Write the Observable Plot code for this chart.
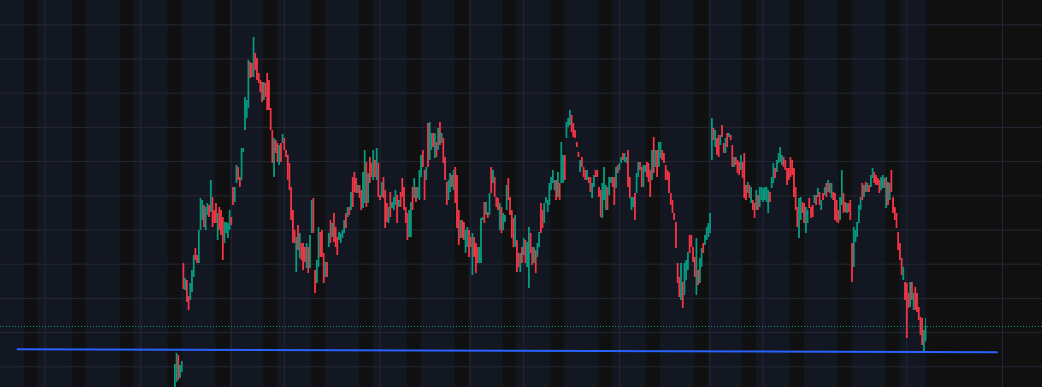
<!DOCTYPE html>
<html>
<head>
<meta charset="utf-8">
<script src="https://cdn.jsdelivr.net/npm/d3@7"></script>
<script src="https://cdn.jsdelivr.net/npm/@observablehq/plot@0.6"></script>
<style>
  html, body { margin: 0; padding: 0; background: #101010; overflow: hidden; }
  #chart svg { display: block; }
</style>
</head>
<body>
<div id="chart"></div>
<script>
// Time: days since the first Saturday in view; one candle every 6 hours.
const firstDay = 22;
const candleStep = 0.25;

const open = [
  8,18,45,22,28,137,110,120,104,100,
  108,123,152,145,137,170,180,195,170,185,
  195,188,203,190,197,160,193,190,183,157,
  167,162,170,183,213,198,217,233,223,220,
  248,270,282,292,338,337,323,347,342,327,
  320,318,300,317,327,320,292,270,223,260,
  257,235,257,257,262,250,245,237,213,190,
  170,128,175,142,157,157,153,132,153,132,
  167,202,130,117,133,168,170,147,123,138,
  153,180,163,187,173,163,160,157,162,167,
  187,183,193,190,223,228,222,207,215,210,
  192,197,238,197,243,237,220,240,220,237,
  205,203,223,210,197,177,208,192,190,195,
  205,193,208,222,213,193,187,163,163,213,
  202,213,202,200,223,250,230,220,277,240,
  250,267,242,258,250,278,257,262,243,218,
  200,208,225,210,233,225,190,162,180,178,
  147,153,170,163,125,163,157,153,137,137,
  180,198,185,188,185,233,217,223,203,202,
  170,193,170,178,190,222,203,190,182,153,
  160,147,128,153,145,160,133,112,167,153,
  137,150,143,153,197,190,177,197,188,195,
  210,217,210,220,203,217,217,217,245,262,
  273,275,285,277,270,258,248,228,243,233,
  230,220,223,223,202,213,230,230,213,210,
  182,200,190,213,205,217,223,223,212,235,
  230,237,247,238,237,250,223,190,193,207,
  207,223,238,233,213,228,238,237,230,220,
  263,233,250,233,242,250,247,235,230,228,
  207,200,187,178,137,123,100,118,105,120,
  130,165,165,153,143,105,130,117,133,157,
  155,160,163,167,240,272,253,262,265,255,
  275,257,247,267,263,265,255,233,243,240,
  238,230,238,247,215,207,215,197,200,197,
  190,205,193,200,198,200,198,187,208,212,
  217,232,228,237,238,235,243,240,232,232,
  243,240,232,213,193,162,180,198,197,167,
  177,202,193,195,197,205,203,208,190,207,
  205,217,208,217,202,208,207,200,190,180,
  195,207,198,187,197,200,157,133,158,163,
  177,190,217,203,218,208,215,213,222,228,
  225,222,220,210,212,222,192,218,200,230,
  203,193,187,168,157,142,120,118,117,107,
  93,118,90,113,107,93,83,82,49,60
];

const high = [
  36,47,45,35,39,137,122,120,104,117,
  130,145,152,145,170,202,200,195,193,197,
  195,220,203,190,197,187,193,190,183,178,
  178,177,190,183,213,213,235,233,223,252,
  252,303,300,340,338,337,363,347,342,327,
  320,318,318,317,327,320,292,270,262,260,
  257,255,257,266,262,250,245,237,213,190,
  170,163,175,167,157,157,153,157,153,165,
  200,202,130,140,173,168,170,147,138,138,
  167,180,177,187,173,163,168,167,170,180,
  187,193,193,208,223,228,222,215,215,210,
  228,250,238,227,243,237,250,240,252,237,
  205,218,223,210,197,193,208,198,203,210,
  205,200,208,222,213,193,187,190,198,213,
  222,213,213,230,245,250,230,233,277,278,
  267,267,267,258,272,278,267,262,243,218,
  220,227,225,230,233,225,190,180,180,178,
  170,173,170,163,167,163,157,153,153,182,
  183,198,198,188,207,233,230,223,203,202,
  197,193,187,185,215,222,203,190,182,185,
  160,147,147,153,162,160,158,173,167,153,
  153,150,157,168,197,190,197,203,200,217,
  223,230,220,220,228,217,258,245,245,278,
  282,290,285,277,270,258,248,240,243,233,
  230,230,223,223,217,225,230,230,213,210,
  217,233,215,213,223,223,223,223,233,235,
  237,243,247,247,243,250,223,203,203,207,
  227,238,238,233,235,235,238,237,230,250,
  263,250,250,258,258,250,247,235,230,228,
  207,200,187,178,137,123,137,118,137,140,
  148,165,165,153,143,162,130,142,152,157,
  165,173,177,187,282,272,270,262,265,265,
  275,257,262,267,267,265,255,243,243,240,
  238,245,238,247,215,218,215,213,200,197,
  210,205,213,213,212,213,213,210,208,223,
  237,232,240,247,253,245,243,240,232,232,
  243,240,232,213,193,202,203,198,197,193,
  190,202,193,195,205,205,212,208,200,207,
  213,217,220,217,217,208,207,200,190,203,
  230,207,198,197,197,200,157,173,170,178,
  195,203,217,215,218,217,215,225,232,228,
  225,222,220,223,225,222,223,218,217,230,
  203,193,187,168,157,142,133,118,117,107,
  118,118,107,113,107,93,83,82,70,82
];

const low = [
  8,18,20,22,28,111,110,98,90,100,
  108,123,140,137,137,170,180,173,170,185,
  183,188,173,177,177,160,170,165,140,157,
  167,162,170,175,195,198,217,220,213,220,
  248,270,282,292,322,323,323,330,320,317,
  308,298,300,303,290,290,270,237,223,247,
  238,235,238,257,250,243,220,210,180,157,
  157,128,150,142,140,130,138,132,127,132,
  167,167,107,117,133,143,143,117,123,123,
  153,157,163,158,153,145,160,157,162,167,
  172,183,185,190,193,208,207,207,202,190,
  192,197,193,197,217,223,220,223,220,203,
  200,203,202,172,178,177,183,192,190,195,
  177,193,193,203,190,177,160,163,163,190,
  202,198,202,200,223,233,200,220,233,240,
  250,253,242,243,250,255,257,237,220,195,
  200,208,213,210,197,172,155,162,162,160,
  147,153,143,153,125,143,127,137,137,137,
  180,177,185,182,185,207,217,203,193,190,
  170,167,170,178,190,200,185,162,153,153,
  128,133,128,137,145,137,133,112,147,135,
  137,127,143,153,167,172,177,197,188,195,
  210,217,210,200,203,200,217,217,220,262,
  273,275,268,263,262,253,243,228,233,223,
  220,220,217,208,202,213,223,223,203,183,
  182,200,190,190,205,217,213,195,212,227,
  230,237,240,238,237,213,202,190,193,180,
  207,223,230,213,213,228,223,218,203,220,
  227,233,223,233,242,240,237,220,220,207,
  195,187,180,152,117,103,100,92,105,120,
  130,147,153,138,123,105,115,117,133,147,
  155,160,163,167,240,260,253,245,243,255,
  263,247,247,253,263,260,233,233,235,227,
  225,230,222,202,200,207,202,197,190,182,
  190,190,193,200,198,200,198,187,198,212,
  217,222,228,237,238,235,233,230,215,220,
  223,225,203,190,173,162,180,187,177,167,
  177,192,182,183,197,195,203,195,190,200,
  205,203,208,207,202,200,180,178,177,180,
  195,187,188,187,188,180,118,133,158,163,
  177,190,200,203,208,208,208,213,222,217,
  215,215,207,210,212,212,192,195,200,208,
  187,180,172,150,140,125,120,100,62,92,
  93,100,90,90,88,80,65,55,49,58
];

const close = [
  36,47,20,35,39,111,122,98,90,117,
  130,145,140,137,170,202,200,173,193,197,
  183,220,173,177,177,187,170,165,140,178,
  178,177,190,175,195,213,235,220,213,252,
  252,303,300,340,322,323,363,330,320,317,
  308,298,318,303,290,290,270,237,262,247,
  238,255,238,266,250,243,220,210,180,157,
  157,163,150,167,140,130,138,157,127,165,
  200,167,107,140,173,143,143,117,138,123,
  167,157,177,158,153,145,168,167,170,180,
  172,193,185,208,193,208,207,215,202,190,
  228,250,193,227,217,223,250,223,252,203,
  200,218,202,172,178,193,183,198,203,210,
  177,200,193,203,190,177,160,190,198,190,
  222,198,213,230,245,233,200,233,233,278,
  267,253,267,243,272,255,267,237,220,195,
  220,227,213,230,197,172,155,180,162,160,
  170,173,143,153,167,143,127,137,153,182,
  183,177,198,182,207,207,230,203,193,190,
  197,167,187,185,215,200,185,162,153,185,
  128,133,147,137,162,137,158,173,147,135,
  153,127,157,168,167,172,197,203,200,217,
  223,230,220,200,228,200,258,245,220,278,
  282,290,268,263,262,253,243,240,233,223,
  220,230,217,208,217,225,223,223,203,183,
  217,233,215,190,223,223,213,195,233,227,
  237,243,240,247,243,213,202,203,203,180,
  227,238,230,213,235,235,223,218,203,250,
  227,250,223,258,258,240,237,220,220,207,
  195,187,180,152,117,103,137,92,137,140,
  148,147,153,138,123,162,115,142,152,147,
  165,173,177,187,282,260,270,245,243,265,
  263,247,262,253,267,260,233,243,235,227,
  225,245,222,202,200,218,202,213,190,182,
  210,190,213,213,212,213,213,210,198,223,
  237,222,240,247,253,245,233,230,215,220,
  223,225,203,190,173,202,203,187,177,193,
  190,192,182,183,205,195,212,195,200,200,
  213,203,220,207,217,200,180,178,177,203,
  230,187,188,197,188,180,118,173,170,178,
  195,203,200,215,208,217,208,225,232,217,
  215,215,207,223,225,212,223,195,217,208,
  187,180,172,150,140,125,133,100,62,92,
  118,100,107,90,88,80,65,55,70,74
];

// Horizontal price grid levels and vertical time grid days
const priceGrid = [33.7, 67.9, 102.1, 136.3, 170.5, 204.7, 238.9, 273.1, 307.3, 341.5, 375.7];
const timeGrid = [3, 17, 30.3, 38, 52, 65.2, 73, 87, 100.25, 108, 129, 143];

// Weekend (non-session) starts, in days
const weekendStarts = [0, 7, 14, 21, 28, 35, 42, 49, 56, 63, 70, 77, 84, 91, 98, 105, 112, 119, 126];
const weekendLength = 2;

// Drawn trend line (two anchor points)
const trendDays = [-1.0, 142.2];
const trendPrices = [51.2, 48.3];

const UP = "#089981", DOWN = "#f23645";

const candles = open.map((o, i) => ({
  t: firstDay + i * candleStep, o, h: high[i], l: low[i], c: close[i]
}));
const last = candles[candles.length - 1];
const barEnd = last.t + candleStep / 2;
const xDomain = [-3.494, 148.845];
const yDomain = [13, 400];

const sessionBg = [{a: xDomain[0], b: barEnd, lo: yDomain[0], hi: yDomain[1]}];
const weekends = weekendStarts
  .filter(s => s < barEnd)
  .map(s => ({a: s, b: Math.min(s + weekendLength, barEnd), lo: yDomain[0], hi: yDomain[1]}));
const trend = trendDays.map((t, i) => ({t, p: trendPrices[i]}));
const col = d => d.c >= d.o ? UP : DOWN;

const chart = Plot.plot({
  width: 1042,
  height: 387,
  margin: 0,
  x: {domain: xDomain, axis: null},
  y: {domain: yDomain, axis: null},
  style: {background: "#101010", overflow: "hidden"},
  marks: [
    Plot.rect(sessionBg, {x1: "a", x2: "b", y1: "lo", y2: "hi", fill: "#131722"}),
    Plot.rect(weekends, {x1: "a", x2: "b", y1: "lo", y2: "hi", fill: "#101010"}),
    Plot.ruleY(priceGrid, {stroke: "#242834", strokeWidth: 1}),
    Plot.ruleX(timeGrid, {stroke: "#242834", strokeWidth: 1}),
    Plot.ruleX(candles, {x: "t", y1: "l", y2: "h", stroke: col, strokeWidth: 1}),
    Plot.ruleX(candles, {x: "t", y1: "o", y2: "c", stroke: col, strokeWidth: 1.7}),
    Plot.ruleY([last.c], {stroke: UP, strokeWidth: 1, strokeDasharray: "1,2"}),
    Plot.line(trend, {x: "t", y: "p", stroke: "#2962ff", strokeWidth: 2})
  ]
});
document.getElementById("chart").appendChild(chart);
</script>
</body>
</html>
